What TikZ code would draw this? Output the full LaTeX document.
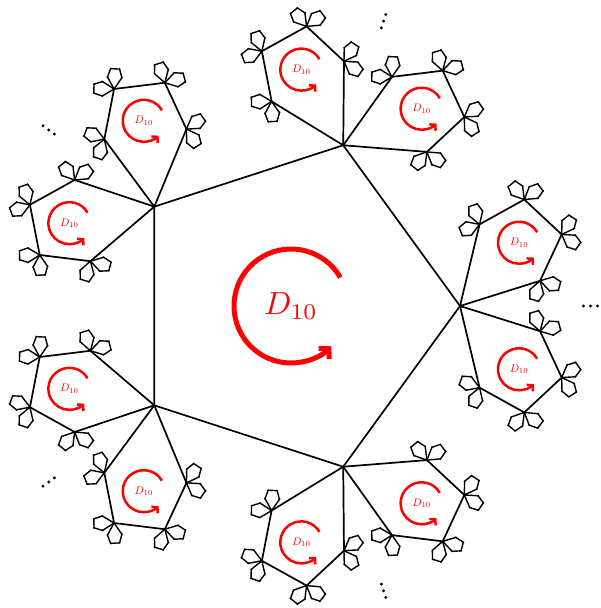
\documentclass[tikz,border=0pt]{standalone}
\usetikzlibrary{arrows.meta,calc}
\begin{document}
\begin{tikzpicture}[x=1pt,y=1pt,
  edge/.style={line width=1.7pt,line join=round},
  petal/.style={line width=1.4pt,line join=round},
  spin/.style={red,line width=#1},
  lab/.style={red,inner sep=0pt}]
\useasboundingbox (0,0) rectangle (601,608);
\coordinate (C) at (291,302);
\def\R{169}\def\dA{86.5}\def\rA{43.5}\def\dB{14}\def\rB{7.6}\def\off{47}\def\offB{46}
% central pentagon
\foreach \k in {0,...,4}{
  \pgfmathsetmacro\a{\k*72}
  \coordinate (V\k) at ($(C)+(\a:\R)$);
}
\draw[edge] (V0)--(V1)--(V2)--(V3)--(V4)--cycle;
\draw[spin=5pt,-{Straight Barb[length=7pt,width=15pt]}] ($(C)+(30:57)$) arc[start angle=30,end angle=315,radius=57];
\node[lab,scale=3.2] (L) at (C) {$D_{10}$};
% second and third levels
\foreach \k in {0,...,4}{
 \foreach \s/\sg in {a/1,b/-1}{
  \pgfmathsetmacro\b{\k*72+\sg*\off}
  \coordinate (O\k\s) at ($(V\k)+(\b:\dA)$);
  \foreach \j/\ang in {1/108,2/36,3/-36,4/-108}{
    \pgfmathsetmacro\c{\b+(\ang)}
    \coordinate (P\k\s\j) at ($(O\k\s)+(\c:\rA)$);
    \foreach \t/\tg in {a/1,b/-1}{
      \pgfmathsetmacro\e{\c+\tg*\offB}
      \coordinate (Q\k\s\j\t) at ($(P\k\s\j)+(\e:\dB)$);
      \foreach \m/\mang in {1/108,2/36,3/-36,4/-108}{
        \pgfmathsetmacro\f{\e+(\mang)}
        \coordinate (T\k\s\j\t\m) at ($(Q\k\s\j\t)+(\f:\rB)$);
        \fill (T\k\s\j\t\m) circle (1.0);
      }
      \draw[petal] (P\k\s\j)--(T\k\s\j\t1)--(T\k\s\j\t2)--(T\k\s\j\t3)--(T\k\s\j\t4)--cycle;
    }
  }
  \draw[edge] (V\k)--(P\k\s1)--(P\k\s2)--(P\k\s3)--(P\k\s4)--cycle;
  \draw[spin=2.5pt,-{Straight Barb[length=4pt,width=9pt]}] ($(O\k\s)+(30:21)$) arc[start angle=30,end angle=315,radius=21];
  \node[lab,scale=1.1] (L\k\s) at (O\k\s) {$D_{10}$};
 }
}
% ellipsis dots
\foreach \k in {0,...,4}{
  \pgfmathsetmacro\a{\k*72}
  \foreach \t in {-7,0,7}{
    \pgfmathsetmacro\dd{299.5+\t}
    \coordinate (E\k\t) at ($(C)+(\a:\dd)$);
    \fill (E\k\t) circle (1.6);
  }
}
\end{tikzpicture}
\end{document}
